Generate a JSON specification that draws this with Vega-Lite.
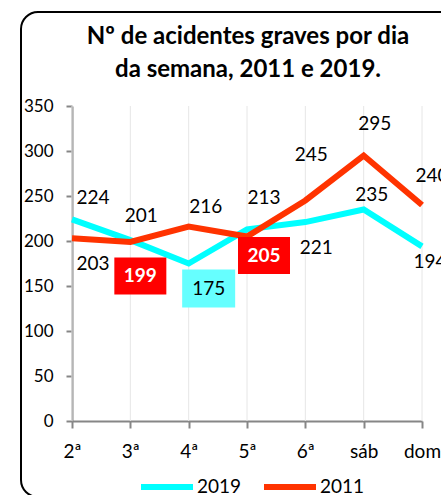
{
  "$schema": "https://vega.github.io/schema/vega-lite/v6.json",
  "autosize": "none",
  "padding": {"left": 21, "top": 12, "right": 0, "bottom": 0},
  "width": 440,
  "height": 485,
  "background": "white",
  "view": {"stroke": "black", "strokeWidth": 2, "cornerRadius": 17, "fill": "white"},
  "config": {
    "font": "Lato",
    "text": {"font": "Lato", "fontSize": 19, "color": "black", "align": "center", "baseline": "middle"}
  },
  "title": {
    "text": ["Nº de acidentes graves por dia", "da semana, 2011 e 2019."],
    "font": "Lato",
    "fontSize": 24,
    "fontWeight": "bold",
    "color": "black",
    "lineHeight": 33,
    "anchor": "middle",
    "frame": "group",
    "baseline": "alphabetic",
    "offset": -89,
    "dx": 7
  },
  "data": {
    "values": [
      {"day": "2ª", "year": "2019", "value": 224},
      {"day": "3ª", "year": "2019", "value": 201},
      {"day": "4ª", "year": "2019", "value": 175},
      {"day": "5ª", "year": "2019", "value": 213},
      {"day": "6ª", "year": "2019", "value": 221},
      {"day": "sáb", "year": "2019", "value": 235},
      {"day": "dom", "year": "2019", "value": 194},
      {"day": "2ª", "year": "2011", "value": 203},
      {"day": "3ª", "year": "2011", "value": 199},
      {"day": "4ª", "year": "2011", "value": 216},
      {"day": "5ª", "year": "2011", "value": 205},
      {"day": "6ª", "year": "2011", "value": 245},
      {"day": "sáb", "year": "2011", "value": 295},
      {"day": "dom", "year": "2011", "value": 240}
    ]
  },
  "encoding": {
    "x": {
      "field": "day",
      "type": "ordinal",
      "scale": {"type": "point", "domain": ["2ª", "3ª", "4ª", "5ª", "6ª", "sáb", "dom"], "range": [51, 401], "padding": 0},
      "axis": {
        "title": null, "orient": "bottom", "offset": -76, "labelAngle": 0,
        "domainColor": "#868686", "domainWidth": 2, "tickColor": "#868686", "tickWidth": 2, "tickSize": 7,
        "labelFont": "Lato", "labelFontSize": 19, "labelColor": "black", "labelPadding": 14, "grid": false
      }
    },
    "y": {
      "field": "value",
      "type": "quantitative",
      "scale": {"domain": [0, 350], "range": [409, 94], "nice": false, "zero": false},
      "axis": {
        "title": null, "offset": -51, "values": [0, 50, 100, 150, 200, 250, 300, 350],
        "domainColor": "#868686", "domainWidth": 2, "tickColor": "#868686", "tickWidth": 2, "tickSize": 6,
        "labelFont": "Lato", "labelFontSize": 17, "labelColor": "black", "labelPadding": 13, "grid": false
      }
    }
  },
  "layer": [
    {
      "transform": [{"filter": "datum.year == '2019'"}],
      "mark": {"type": "rule", "color": "#e6e6e6", "strokeWidth": 1},
      "encoding": {"y": {"datum": 0}, "y2": {"datum": 350}}
    },
    {
      "transform": [{"filter": "datum.year == '2019'"}],
      "mark": {"type": "line", "strokeWidth": 6, "strokeJoin": "miter"},
      "encoding": {
        "color": {
          "field": "year", "type": "nominal",
          "scale": {"domain": ["2019", "2011"], "range": ["#00FFFF", "#FF3300"]},
          "legend": {
            "orient": "none", "legendX": 117, "legendY": 446, "direction": "horizontal", "title": null,
            "symbolType": "stroke", "symbolSize": 2704, "symbolStrokeWidth": 6,
            "labelFont": "Lato", "labelFontSize": 19, "labelColor": "black", "labelOffset": 1, "columnPadding": 10
          }
        }
      }
    },
    {
      "transform": [{"filter": "datum.year == '2011'"}],
      "mark": {"type": "line", "strokeWidth": 6, "strokeJoin": "miter"},
      "encoding": {"color": {"field": "year", "type": "nominal"}}
    },
    {
      "transform": [{"filter": "datum.year == '2011' && datum.day == '3ª'"}],
      "mark": {"type": "rect", "width": 52, "height": 37, "xOffset": 10, "yOffset": 34, "color": "#FF0000"}
    },
    {
      "transform": [{"filter": "datum.year == '2019' && datum.day == '4ª'"}],
      "mark": {"type": "rect", "width": 53, "height": 38, "xOffset": 20, "yOffset": 25, "color": "#66FFFF"}
    },
    {
      "transform": [{"filter": "datum.year == '2011' && datum.day == '5ª'"}],
      "mark": {"type": "rect", "width": 52, "height": 37, "xOffset": 17, "yOffset": 19, "color": "#FF0000"}
    },
    {"transform": [{"filter": "datum.year == '2019' && datum.day == '2ª'"}], "mark": {"type": "text", "dx": 21, "dy": -21}, "encoding": {"text": {"field": "value"}}},
    {"transform": [{"filter": "datum.year == '2011' && datum.day == '2ª'"}], "mark": {"type": "text", "dx": 21, "dy": 26}, "encoding": {"text": {"field": "value"}}},
    {"transform": [{"filter": "datum.year == '2019' && datum.day == '3ª'"}], "mark": {"type": "text", "dx": 11, "dy": -24}, "encoding": {"text": {"field": "value"}}},
    {"transform": [{"filter": "datum.year == '2011' && datum.day == '3ª'"}], "mark": {"type": "text", "dx": 10, "dy": 34, "color": "white", "fontWeight": "bold"}, "encoding": {"text": {"field": "value"}}},
    {"transform": [{"filter": "datum.year == '2011' && datum.day == '4ª'"}], "mark": {"type": "text", "dx": 17, "dy": -20}, "encoding": {"text": {"field": "value"}}},
    {"transform": [{"filter": "datum.year == '2019' && datum.day == '4ª'"}], "mark": {"type": "text", "dx": 20, "dy": 25}, "encoding": {"text": {"field": "value"}}},
    {"transform": [{"filter": "datum.year == '2019' && datum.day == '5ª'"}], "mark": {"type": "text", "dx": 17, "dy": -31}, "encoding": {"text": {"field": "value"}}},
    {"transform": [{"filter": "datum.year == '2011' && datum.day == '5ª'"}], "mark": {"type": "text", "dx": 17, "dy": 19, "color": "white", "fontWeight": "bold"}, "encoding": {"text": {"field": "value"}}},
    {"transform": [{"filter": "datum.year == '2011' && datum.day == '6ª'"}], "mark": {"type": "text", "dx": 6, "dy": -46}, "encoding": {"text": {"field": "value"}}},
    {"transform": [{"filter": "datum.year == '2019' && datum.day == '6ª'"}], "mark": {"type": "text", "dx": 11, "dy": 26}, "encoding": {"text": {"field": "value"}}},
    {"transform": [{"filter": "datum.year == '2011' && datum.day == 'sáb'"}], "mark": {"type": "text", "dx": 11, "dy": -32}, "encoding": {"text": {"field": "value"}}},
    {"transform": [{"filter": "datum.year == '2019' && datum.day == 'sáb'"}], "mark": {"type": "text", "dx": 8, "dy": -15}, "encoding": {"text": {"field": "value"}}},
    {"transform": [{"filter": "datum.year == '2011' && datum.day == 'dom'"}], "mark": {"type": "text", "dx": 10, "dy": -29}, "encoding": {"text": {"field": "value"}}},
    {"transform": [{"filter": "datum.year == '2019' && datum.day == 'dom'"}], "mark": {"type": "text", "dx": 8, "dy": 16}, "encoding": {"text": {"field": "value"}}}
  ]
}
